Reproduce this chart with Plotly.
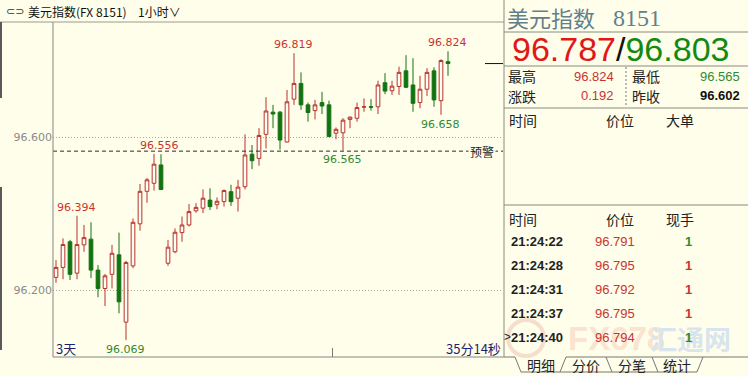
import plotly.graph_objects as go

W, H = 748, 376
BG = "#FFFEEB"
UP_LINE = "#B8322A"
UP_FILL = "#FFFDF4"
DN = "#127312"
RED_TXT = "#C8352E"
GRN_TXT = "#2F8A2F"
CJK = "Noto Sans CJK SC"
NUM = "DejaVu Sans"
ARIAL = "Liberation Sans"

# ---------------- data (1-hour candles, USD index) ----------------
opens = [96.233, 96.259, 96.326, 96.244, 96.318, 96.333, 96.252, 96.204, 96.241, 96.292,
         96.116, 96.263, 96.373, 96.458, 96.479, 96.527, 96.270, 96.300, 96.350, 96.370,
         96.407, 96.414, 96.435, 96.423, 96.431, 96.457, 96.440, 96.470, 96.555, 96.544,
         96.607, 96.665, 96.665, 96.587, 96.699, 96.740, 96.684, 96.669, 96.690, 96.684,
         96.610, 96.611, 96.646, 96.649, 96.678, 96.679, 96.679, 96.742, 96.721, 96.732,
         96.773, 96.736, 96.690, 96.725, 96.773, 96.695, 96.797]
closes = [96.259, 96.319, 96.241, 96.319, 96.337, 96.252, 96.204, 96.237, 96.296, 96.169,
          96.272, 96.377, 96.458, 96.488, 96.529, 96.463, 96.312, 96.351, 96.370, 96.405,
          96.416, 96.440, 96.418, 96.432, 96.460, 96.431, 96.469, 96.553, 96.538, 96.604,
          96.668, 96.660, 96.592, 96.692, 96.740, 96.684, 96.664, 96.684, 96.681, 96.601,
          96.620, 96.644, 96.652, 96.677, 96.679, 96.678, 96.736, 96.720, 96.733, 96.769,
          96.730, 96.688, 96.725, 96.769, 96.697, 96.800, 96.792]
highs = [96.278, 96.335, 96.331, 96.394, 96.370, 96.377, 96.265, 96.242, 96.318, 96.350,
         96.276, 96.387, 96.477, 96.493, 96.556, 96.555, 96.331, 96.361, 96.392, 96.425,
         96.427, 96.463, 96.466, 96.442, 96.463, 96.475, 96.488, 96.607, 96.579, 96.623,
         96.704, 96.684, 96.668, 96.723, 96.819, 96.769, 96.690, 96.697, 96.718, 96.695,
         96.625, 96.649, 96.653, 96.690, 96.701, 96.699, 96.747, 96.767, 96.747, 96.784,
         96.814, 96.806, 96.760, 96.780, 96.782, 96.803, 96.824]
lows = [96.219, 96.228, 96.226, 96.228, 96.300, 96.231, 96.181, 96.158, 96.204, 96.139,
        96.069, 96.257, 96.355, 96.428, 96.460, 96.461, 96.263, 96.296, 96.326, 96.366,
        96.402, 96.401, 96.409, 96.411, 96.418, 96.420, 96.405, 96.463, 96.516, 96.525,
        96.570, 96.623, 96.567, 96.586, 96.684, 96.671, 96.640, 96.646, 96.660, 96.600,
        96.594, 96.565, 96.623, 96.640, 96.666, 96.669, 96.660, 96.712, 96.710, 96.710,
        96.728, 96.666, 96.675, 96.707, 96.679, 96.658, 96.760]
x_idx = list(range(len(opens)))

y_tick_vals = [96.2, 96.6]
y_tick_text = ["96.200", "96.600"]
alert_level = 96.563
day_break = 39.5

# extreme-value markers: candle index and whether high or low is marked
mark_idx = [3, 10, 14, 34, 41, 55, 56]
mark_side = ["high", "low", "high", "high", "low", "low", "high"]

# right-hand quote panel
panel_name = "美元指数"
panel_code = "8151"
bid, ask = "96.787", "96.803"
stat_high, stat_low = "96.824", "96.565"
stat_change, stat_prev = "0.192", "96.602"
tick_times = ["21:24:22", "21:24:28", "21:24:31", "21:24:37", "21:24:40"]
tick_prices = ["96.791", "96.795", "96.792", "96.795", "96.794"]
tick_vols = ["1", "1", "1", "1", "1"]
tick_vol_up = [False, True, True, True, False]
tabs = ["明细", "分价", "分笔", "统计"]

# ---------------- helpers ----------------
def P(px):
    return px / W

def Q(py):
    return 1 - py / H

annotations = []
shapes = []

def ann(text, x, y, size, color, family, xanchor="left", **kw):
    d = dict(text=text, x=P(x), y=Q(y), xref="paper", yref="paper",
             xanchor=xanchor, yanchor="middle", showarrow=False,
             font=dict(size=size, color=color, family=family))
    d.update(kw)
    annotations.append(d)

def line(x0, y0, x1, y1, color="#8A8A80", width=1, dash=None):
    ln = dict(color=color, width=width)
    if dash:
        ln["dash"] = dash
    shapes.append(dict(type="line", xref="paper", yref="paper",
                       x0=P(x0), y0=Q(y0), x1=P(x1), y1=Q(y1), line=ln))

# ---------------- figure ----------------
fig = go.Figure()
fig.add_trace(go.Candlestick(
    x=x_idx, open=opens, high=highs, low=lows, close=closes,
    increasing=dict(line=dict(color=UP_LINE, width=1), fillcolor=UP_FILL),
    decreasing=dict(line=dict(color=DN, width=1), fillcolor=DN),
    whiskerwidth=0, hoverinfo="skip", showlegend=False))

# watermark (under panel text)
shapes.append(dict(type="circle", xref="paper", yref="paper",
                   x0=P(508), x1=P(544), y0=Q(320), y1=Q(356),
                   line=dict(color="#F5DFCC", width=4)))
ann("<b>FX678</b>", 566, 338, 33, "#FAE3CF", ARIAL)
ann("<b>汇通网</b>", 648, 338, 27, "#D8E4EE", CJK)

# extreme labels on chart
for i, side in zip(mark_idx, mark_side):
    if side == "high":
        v = highs[i]
        annotations.append(dict(text=f"{v:.3f}", x=i, y=v, xref="x", yref="y",
                                xanchor="center", yanchor="bottom", yshift=0,
                                xshift=(5 if i == 14 else -1), showarrow=False,
                                font=dict(size=11, color=RED_TXT, family=NUM)))
    else:
        v = lows[i]
        annotations.append(dict(text=f"{v:.3f}", x=i, y=v, xref="x", yref="y",
                                xanchor="center", yanchor="top", yshift=-1, xshift=-1,
                                showarrow=False,
                                font=dict(size=11, color=GRN_TXT, family=NUM)))

# alert line
shapes.append(dict(type="line", xref="x domain", yref="y", x0=0, x1=1,
                   y0=alert_level, y1=alert_level,
                   line=dict(color="#2A2A2A", width=1, dash="4px,3px")))
annotations.append(dict(text="预警", x=P(482), y=alert_level, xref="paper", yref="y",
                        xanchor="center", yanchor="middle", showarrow=False,
                        bgcolor=BG, font=dict(size=12, color="#222", family=CJK)))
# current price marker
shapes.append(dict(type="line", xref="paper", yref="y", x0=P(485), x1=P(503),
                   y0=closes[-1], y1=closes[-1], line=dict(color="#111", width=1)))
# day separator tick
shapes.append(dict(type="line", xref="x", yref="paper", x0=day_break, x1=day_break,
                   y0=Q(357), y1=Q(348), line=dict(color="#777", width=1)))

# frame lines
line(0, 22, 504, 22, "#9A9A90")
line(53, 22, 53, 357, "#858580")
line(53, 357, 504, 357, "#858580")
line(1, 22, 1, 98, "#5A5A5A", 2)
line(1, 187, 1, 350, "#5A5A5A", 2)
line(504, 0, 504, 357, "#8A8A80")

# header
ann("⊂⊃", 4, 11, 11, "#333", NUM)
ann("美元指数(FX 8151)", 26, 11, 12, "#111", CJK)
ann("1小时∨", 136, 11, 12, "#111", CJK)

# bottom labels
ann("3天", 54, 348, 13, "#1E1E6E", CJK)
ann("35分14秒", 503, 348, 13, "#1E1E6E", CJK, xanchor="right")

# ---------------- right panel ----------------
ann(panel_name, 505, 17, 22, "#62808C", CJK)
ann(panel_code, 611, 18, 24, "#62808C", "Liberation Serif")
line(504, 32, 748, 32)
ann(f"<span style='color:#E01818'>{bid}</span><span style='color:#111'>/</span>"
    f"<span style='color:#128A12'>{ask}</span>", 620, 49, 34, "#111", ARIAL,
    xanchor="center")
line(504, 66, 748, 66)
ann("最高", 506, 76, 14, "#222", CJK)
ann(stat_high, 616, 76, 13, RED_TXT, ARIAL, xanchor="right")
ann("最低", 630, 76, 14, "#222", CJK)
ann(stat_low, 742, 76, 13, GRN_TXT, ARIAL, xanchor="right")
ann("涨跌", 506, 96, 14, "#222", CJK)
ann(stat_change, 616, 96, 13, RED_TXT, ARIAL, xanchor="right")
ann("昨收", 630, 96, 14, "#222", CJK)
ann(f"<b>{stat_prev}</b>", 742, 96, 13, "#111", ARIAL, xanchor="right")
line(626, 67, 626, 107, "#777", 1, "2px,2px")
line(504, 108, 748, 108)

ann("时间", 507, 120, 14, "#222", CJK)
ann("价位", 620, 120, 14, "#222", CJK, xanchor="center")
ann("大单", 680, 120, 14, "#222", CJK, xanchor="center")
line(504, 205, 748, 205)

ann("时间", 507, 219, 14, "#222", CJK)
ann("价位", 620, 219, 14, "#222", CJK, xanchor="center")
ann("现手", 680, 219, 14, "#222", CJK, xanchor="center")
row_y = [241, 265, 289, 313, 337]
for t, p, v, up, ry in zip(tick_times, tick_prices, tick_vols, tick_vol_up, row_y):
    ann(f"<b>{t}</b>", 509, ry, 13, "#222", ARIAL)
    ann(p, 615, ry, 13, RED_TXT, ARIAL, xanchor="center")
    ann(f"<b>{v}</b>", 694, ry, 13, RED_TXT if up else GRN_TXT, ARIAL, xanchor="right")
ann(">", 502, row_y[-1], 12, "#222", ARIAL)

# tabs
line(504, 357, 515, 357, "#777")
line(566, 357, 748, 357, "#777")
for (a, b) in [((515, 357), (521, 372)), ((560, 372), (566, 357)),
               ((606, 357), (612, 372)), ((652, 357), (658, 372)),
               ((697, 372), (703, 357))]:
    line(a[0], a[1], b[0], b[1], "#777")
line(521, 372, 697, 372, "#777")
for lbl, cx in zip(tabs, [541, 586, 632, 677]):
    ann(lbl, cx, 365, 14, "#222", CJK, xanchor="center")

fig.update_layout(
    width=W, height=H, autosize=False,
    margin=dict(l=0, r=0, t=0, b=0, pad=0),
    paper_bgcolor=BG, plot_bgcolor=BG,
    showlegend=False, boxgap=0.25,
    xaxis=dict(domain=[53 / W, 503 / W], range=[-3 / 7, 447 / 7],
               showgrid=False, zeroline=False, showticklabels=False, showline=False,
               ticks="", rangeslider=dict(visible=False), fixedrange=True),
    yaxis=dict(domain=[1 - 357 / H, 1 - 22 / H],
               range=[96.6 - 220 / 382.5, 96.6 + 115 / 382.5],
               tickvals=y_tick_vals, ticktext=y_tick_text,
               showgrid=True, gridcolor="#A8A8A0", griddash="1px,2px", gridwidth=1,
               zeroline=False, showline=False, ticks="",
               tickfont=dict(size=11, color="#8A8A8A", family=NUM), fixedrange=True),
    annotations=annotations, shapes=shapes,
)

fig.write_html("out.html")
